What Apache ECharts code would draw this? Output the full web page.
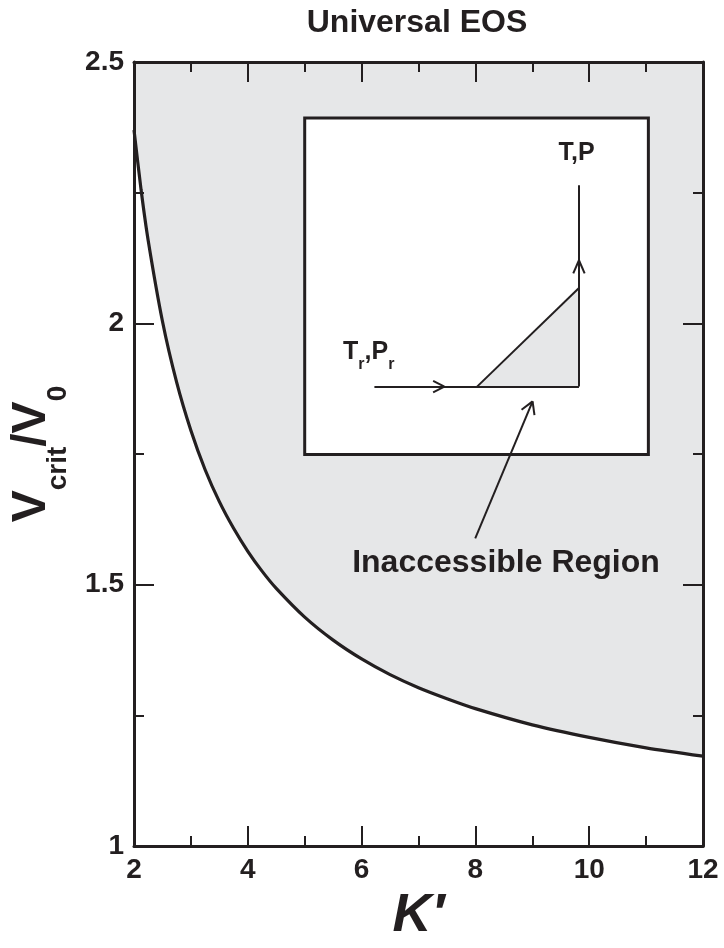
<!DOCTYPE html>
<html>
<head>
<meta charset="utf-8">
<script src="https://cdn.jsdelivr.net/npm/echarts@6/dist/echarts.min.js"></script>
<style>
  html, body { margin: 0; padding: 0; background: #fff; }
  #chart { width: 724px; height: 948px; }
</style>
</head>
<body>
<div id="chart"></div>
<script>
// curve: critical volume vs K'
const kPrime = [2, 2.125, 2.25, 2.5, 2.75, 3, 3.25, 3.5, 3.75, 4, 4.25, 4.5, 5, 5.5, 6, 6.5, 7, 7.5, 8, 9, 10, 11, 12];
const vRatio = [2.370, 2.255, 2.158, 2.004, 1.887, 1.795, 1.720, 1.659, 1.608, 1.564, 1.526, 1.493, 1.438, 1.394, 1.358, 1.328, 1.303, 1.282, 1.263, 1.232, 1.208, 1.188, 1.172];

// inset schematic, in the chart's own (K', V/V0) units
const insetBox = [[5.0, 2.393], [11.04, 1.749]];
const insetTriangle = [[8.03, 1.879], [9.82, 2.0675]];
const insetSegments = [
  [[6.225, 1.879], [9.82, 1.879]],      // T_r,P_r path
  [[9.82, 1.879], [9.82, 2.264]],       // up to T,P
  [[7.257, 1.890], [7.455, 1.879]],     // arrow head (horizontal)
  [[7.257, 1.868], [7.455, 1.879]],
  [[9.72, 2.0956], [9.82, 2.1207]],     // arrow head (vertical)
  [[9.92, 2.0956], [9.82, 2.1207]],
  [[7.997, 1.5887], [9.005, 1.8507]],   // pointer to region
  [[8.811, 1.8346], [9.005, 1.8507]],
  [[9.038, 1.8246], [9.005, 1.8507]]
];
const insetLabels = ['{m|T,P}', '{m|T}{s|r}{m|,P}{s|r}', '{big|Inaccessible Region}'];
const insetLabelPos = [[9.777, 2.311], [6.126, 1.930], [8.538, 1.542]];

const ink = '#231f20';
const font = 'Liberation Sans, Arial, sans-serif';

const chart = echarts.init(document.getElementById('chart'));

function axisBase(showLabel) {
  return {
    axisLine: { show: true, onZero: false, lineStyle: { color: ink, width: 3 } },
    axisTick: { show: true, inside: true, length: 20, lineStyle: { color: ink, width: 2 } },
    minorTick: { show: true, splitNumber: 2, length: 10, lineStyle: { color: ink, width: 2 } },
    splitLine: { show: false },
    axisLabel: {
      show: showLabel, color: ink, fontFamily: font, fontWeight: 'bold', fontSize: 28, margin: 10
    },
    z: 10
  };
}

const option = {
  animation: false,
  backgroundColor: '#fff',
  title: {
    text: 'Universal EOS',
    left: 412, top: 2, textAlign: 'center',
    textStyle: { color: ink, fontFamily: font, fontWeight: 'bold', fontSize: 32 }
  },
  grid: { left: 131, right: 21, top: 62, bottom: 86 },
  xAxis: [
    Object.assign(axisBase(true), {
      type: 'value', min: 2, max: 12, interval: 2, position: 'bottom',
      name: 'K\u2032', nameLocation: 'middle', nameGap: 42,
      nameTextStyle: { color: ink, fontFamily: font, fontWeight: 'bold', fontStyle: 'italic', fontSize: 54 }
    }),
    Object.assign(axisBase(false), { type: 'value', min: 2, max: 12, interval: 2, position: 'top' })
  ],
  yAxis: [
    Object.assign(axisBase(true), {
      type: 'value', min: 1, max: 2.5, interval: 0.5, position: 'left',
      name: '{v|V}{s|crit}{v|/V}{s|0}', nameLocation: 'middle', nameGap: 62, nameRotate: 90,
      nameTextStyle: {
        rich: {
          v: { color: ink, fontFamily: font, fontWeight: 'bold', fontSize: 48, lineHeight: 48, padding: [0, 0, 16, 0], verticalAlign: 'bottom' },
          s: { color: ink, fontFamily: font, fontWeight: 'bold', fontSize: 28, lineHeight: 28, verticalAlign: 'bottom' }
        }
      }
    }),
    Object.assign(axisBase(false), { type: 'value', min: 1, max: 2.5, interval: 0.5, position: 'right' })
  ],
  series: [
    {
      type: 'line',
      data: kPrime.map((k, i) => [k, vRatio[i]]),
      smooth: 0.25,
      symbol: 'none',
      lineStyle: { color: ink, width: 3.2 },
      areaStyle: { origin: 'end', color: '#e6e7e8', opacity: 1 },
      z: 2
    },
    {
      type: 'line',
      data: [],
      markArea: {
        silent: true,
        z: 3,
        itemStyle: { color: '#fff', borderColor: ink, borderWidth: 3 },
        data: [[{ coord: insetBox[0] }, { coord: insetBox[1] }]]
      }
    },
    {
      type: 'line',
      data: insetTriangle,
      symbol: 'none',
      lineStyle: { color: ink, width: 2 },
      areaStyle: { origin: insetTriangle[0][1], color: '#e6e7e8', opacity: 1 },
      z: 4
    },
    {
      type: 'lines',
      coordinateSystem: 'cartesian2d',
      data: insetSegments.map(s => ({ coords: s })),
      lineStyle: { color: ink, width: 2, opacity: 1 },
      z: 5
    },
    {
      type: 'scatter',
      symbolSize: 0,
      itemStyle: { opacity: 1 },
      data: insetLabelPos.map((p, i) => ({
        value: p,
        label: { formatter: insetLabels[i] }
      })),
      label: {
        show: true, position: 'inside', color: ink, opacity: 1,
        rich: {
          m: { color: ink, fontFamily: font, fontWeight: 'bold', fontSize: 25, lineHeight: 25, padding: [0, 0, 8, 0], verticalAlign: 'bottom' },
          s: { color: ink, fontFamily: font, fontWeight: 'bold', fontSize: 16, lineHeight: 16, verticalAlign: 'bottom' },
          big: { color: ink, fontFamily: font, fontWeight: 'bold', fontSize: 32, lineHeight: 36 }
        }
      },
      z: 6
    }
  ]
};

chart.setOption(option);
</script>
</body>
</html>
